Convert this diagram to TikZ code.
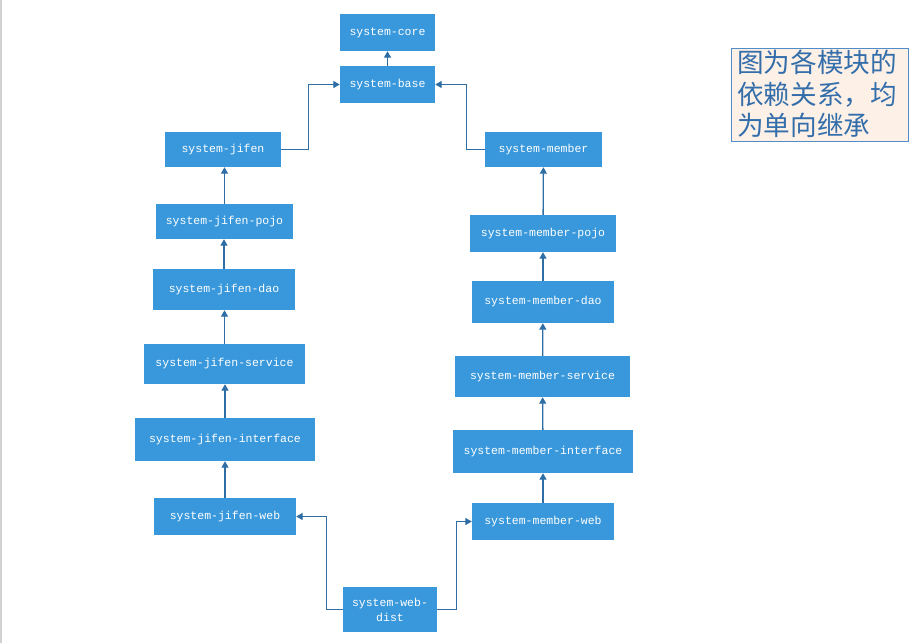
\documentclass[tikz,border=0pt]{standalone}
\usepackage{fontspec}
\setmonofont{Liberation Mono}
\newfontfamily\cjk{Noto Sans CJK SC}
\usetikzlibrary{arrows.meta}
\definecolor{boxblue}{RGB}{57,152,219}
\definecolor{linkblue}{RGB}{46,110,165}
\definecolor{notefill}{RGB}{253,241,231}
\definecolor{noteline}{RGB}{80,140,200}
\definecolor{notetext}{RGB}{52,110,170}
\tikzset{
  mod/.style={fill=boxblue, text=white, inner sep=0pt, align=center,
    font=\ttfamily\fontsize{11.5}{15}\selectfont},
  arr/.style={draw=linkblue, line width=1.3pt, -{Triangle[width=7pt,length=6.5pt]}},
}
\begin{document}
\begin{tikzpicture}[x=1pt,y=-1pt]
\useasboundingbox (0,0) rectangle (916,643);
\fill[white] (0,0) rectangle (916,643);
\draw[gray!35, line width=1.5pt] (0.75,0) -- (0.75,643);

\node[mod, minimum width=95, minimum height=37] (core) at (387.5,32.5) {system-core};
\node[mod, minimum width=95, minimum height=37] (base) at (387.5,84.5) {system-base};

\node[mod, minimum width=116, minimum height=35] (jifen) at (223,149.5) {system-jifen};
\node[mod, minimum width=137, minimum height=35] (jpojo) at (224.5,221.5) {system-jifen-pojo};
\node[mod, minimum width=142, minimum height=41] (jdao) at (224,289.5) {system-jifen-dao};
\node[mod, minimum width=161, minimum height=40] (jservice) at (224.5,364) {system-jifen-service};
\node[mod, minimum width=180, minimum height=43] (jinterface) at (225,439.5) {system-jifen-interface};
\node[mod, minimum width=142, minimum height=37] (jweb) at (225,516.5) {system-jifen-web};

\node[mod, minimum width=117, minimum height=35] (member) at (543.5,149.5) {system-member};
\node[mod, minimum width=146, minimum height=37] (mpojo) at (543,233.5) {system-member-pojo};
\node[mod, minimum width=142, minimum height=42] (mdao) at (543,302) {system-member-dao};
\node[mod, minimum width=175, minimum height=41] (mservice) at (542.5,376.5) {system-member-service};
\node[mod, minimum width=180, minimum height=43] (minterface) at (543,451.5) {system-member-interface};
\node[mod, minimum width=142, minimum height=37] (mweb) at (543,521.5) {system-member-web};

\node[mod, minimum width=94, minimum height=45] (dist) at (390,609.5) {system-web-\\dist};

\node[draw=noteline, fill=notefill, line width=1pt, minimum width=177, minimum height=93, inner sep=0pt] (notebox) at (819.5,94.5) {};
\node[anchor=north west, inner sep=0pt, align=left, text=notetext,
  font=\cjk\fontsize{26.6}{31.5}\selectfont] (note) at (737,50)
  {图为各模块的\\依赖关系，均\\为单向继承};

\draw[arr] (base) -- (core);
\draw[arr] (jpojo.north) -- (jpojo.north |- jifen.south);
\draw[arr] (jdao.north) -- (jdao.north |- jpojo.south);
\draw[arr] (jservice.north) -- (jservice.north |- jdao.south);
\draw[arr] (jinterface.north) -- (jinterface.north |- jservice.south);
\draw[arr] (jweb.north) -- (jweb.north |- jinterface.south);
\draw[arr] (mpojo) -- (member);
\draw[arr] (mdao) -- (mpojo);
\draw[arr] (mservice) -- (mdao);
\draw[arr] (minterface) -- (mservice);
\draw[arr] (mweb) -- (minterface);

\draw[arr] (jifen.east) -- ++(27,0) |- (base.west);
\draw[arr] (member.west) -- ++(-18,0) |- (base.east);
\draw[arr] (dist.west) -- ++(-16,0) |- (jweb.east);
\draw[arr] (dist.east) -- ++(19,0) |- (mweb.west);
\end{tikzpicture}
\end{document}
